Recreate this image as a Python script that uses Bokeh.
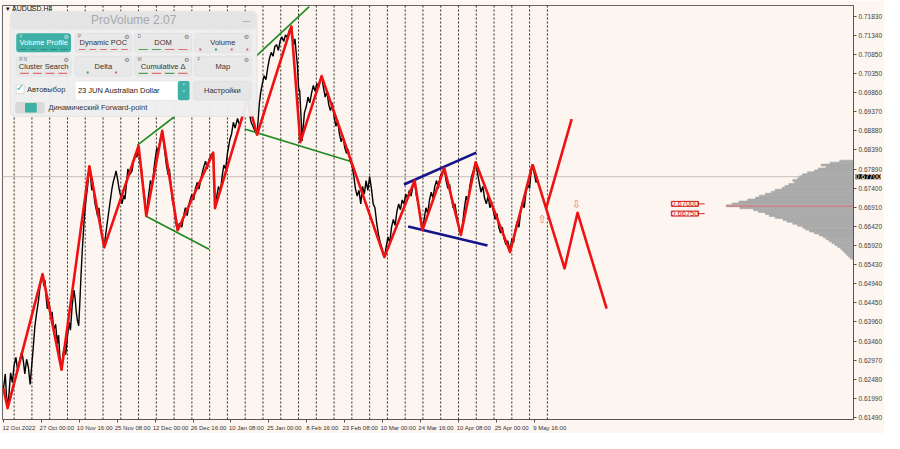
from bokeh.plotting import figure
from bokeh.models import Range1d, FixedTicker, PrintfTickFormatter, Label, BoxAnnotation
from bokeh.core.properties import value
from bokeh.embed import file_html
from bokeh.resources import INLINE

# ---------------- data ----------------
date_tick_bars = [0, 64, 128, 192, 256, 320, 384, 448, 512, 576, 640, 704, 768, 832, 896]
date_tick_labels = ["12 Oct 2022", "27 Oct 00:00", "10 Nov 16:00", "25 Nov 08:00", "12 Dec 00:00",
                    "26 Dec 16:00", "10 Jan 08:00", "25 Jan 00:00", "8 Feb 16:00", "23 Feb 08:00",
                    "10 Mar 00:00", "24 Mar 16:00", "10 Apr 08:00", "25 Apr 00:00", "9 May 16:00"]
price_ticks = [0.71830, 0.71340, 0.70850, 0.70350, 0.69860, 0.69370, 0.68880, 0.68390, 0.67890,
               0.67400, 0.66910, 0.66420, 0.65920, 0.65430, 0.64940, 0.64450, 0.63960, 0.63460,
               0.62970, 0.62480, 0.61990, 0.61490]
week_separator_bars = [18, 48, 78, 108, 138, 168, 198, 228, 258, 288, 318, 348, 378, 408, 438, 468,
                       498, 528, 558, 588, 618, 648, 678, 708, 738, 768, 798, 828, 858, 888, 918]

# H4 price path (bar index, price)
black_bar = [0, 3, 5, 7, 9, 12, 15, 18, 21, 24, 28, 31, 34, 36, 39, 42, 45, 48, 50, 53, 56, 59, 61, 63, 66,
             68, 70, 72, 74, 77, 80, 82, 85, 88, 91, 93, 95, 98,
             100, 102, 105, 108, 111, 113, 116, 119, 121, 123, 125, 127, 129, 131, 133, 136, 138, 140, 142, 145,
             147, 149, 151, 154, 156, 159, 161, 164, 166, 168, 170,
             172, 175, 177, 180, 183, 185, 188, 190, 193, 195, 198, 200, 203, 205, 208, 210, 213, 217, 220, 223, 225, 228,
             230, 233, 235, 238, 241,
             243, 246, 248, 251, 254, 256, 259, 261, 264, 268,
             270, 273, 275, 278, 280, 283, 285, 288, 291, 294,
             297, 301, 304, 307, 310, 314, 318, 321, 324, 327, 330, 334, 337, 341, 344, 347, 350, 354,
             356, 357,
             360, 363, 366, 369, 372, 375, 378, 382, 385, 388, 391, 395, 398, 402, 405, 408, 412,
             415, 418, 421, 424, 428,
             430, 432, 434, 437, 440, 443, 446, 449, 452, 455, 458, 461, 464, 467, 470, 473, 476, 479, 482, 486,
             488, 490, 492, 494, 496, 498, 500, 502, 504, 506, 508, 511, 514, 517, 520, 523, 526, 529, 532, 535, 537,
             540, 543, 546, 549, 552, 555, 558, 561, 564, 567, 570, 573, 576, 579, 582, 585, 588, 591, 594, 597,
             600, 603, 606, 609, 612, 615, 618, 621, 624, 627, 630, 633, 636, 639, 641, 643,
             646, 649, 652, 655, 658, 661, 664, 667, 670, 673, 676, 679, 682, 685, 688, 691, 694,
             697, 700, 703, 705, 707,
             710, 713, 716, 719, 722, 725, 728, 731, 734, 737, 740, 744,
             747, 750, 753, 756, 759, 762, 765, 768, 772,
             775, 778, 781, 784, 787, 790, 793, 797,
             800, 803, 806, 809, 812, 815, 818, 821, 824, 827, 830, 833, 836, 839, 842, 845, 848, 851, 855,
             858, 861, 864, 867, 870, 873, 876, 879, 882, 885, 888, 890, 893,
             895, 897, 899, 901]
black_price = [.6224, .6262, .6208, .6176, .6205, .6265, .6240, .6285, .6305, .6270, .6300, .6320, .6290, .6262, .6300, .6280, .6235, .6290, .6325, .6385, .6420, .6450, .6478, .6500, .6519,
               .6488, .6503, .6460, .6430, .6448, .6405, .6422, .6375, .6390, .6340, .6362, .6310, .6273,
               .6305, .6330, .6312, .6358, .6395, .6375, .6440, .6478, .6455, .6420, .6398, .6386, .6450, .6520, .6580, .6655, .6690, .6720, .6745, .6797,
               .6770, .6735, .6755, .6705, .6690, .6668, .6690, .6645, .6620, .6605, .6588,
               .6615, .6650, .6672, .6705, .6738, .6755, .6772, .6785, .6760, .6740, .6718, .6700, .6722, .6712, .6758, .6790, .6775, .6785, .6815, .6830, .6820, .6849,
               .6815, .6790, .6752, .6718, .6669,
               .6700, .6735, .6760, .6745, .6790, .6815, .6845, .6830, .6862, .6888,
               .6860, .6825, .6800, .6775, .6790, .6745, .6710, .6690, .6650, .6632,
               .6650, .6640, .6668, .6690, .6670, .6705, .6725, .6710, .6740, .6755, .6738, .6770, .6790, .6810, .6790, .6815, .6825, .6832,
               .6760, .6689,
               .6720, .6745, .6730, .6770, .6800, .6790, .6830, .6865, .6880, .6910, .6895, .6920, .6905, .6915, .6940, .6955, .6968,
               .6935, .6910, .6900, .6890, .6878,
               .6920, .6960, .6985, .7010, .7030, .7020, .7050, .7075, .7090, .7080, .7105, .7110, .7095, .7120, .7130, .7118, .7135, .7128, .7145, .7157,
               .7130, .7110, .7125, .7090, .7060, .7000, .6990, .6930, .6862, .6900, .6935, .6950, .6975, .6960, .6985, .7005, .6990, .7010, .7000, .7020, .7029,
               .7000, .6975, .6990, .6955, .6940, .6960, .6925, .6900, .6915, .6880, .6860, .6875, .6845, .6830, .6840, .6810, .6800, .6775, .6740, .6720,
               .6735, .6700, .6745, .6725, .6760, .6735, .6770, .6740, .6700, .6690, .6650, .6620, .6600, .6585, .6570, .6563,
               .6590, .6615, .6600, .6640, .6660, .6645, .6680, .6700, .6685, .6710, .6700, .6725, .6715, .6735, .6720, .6745, .6760,
               .6720, .6700, .6670, .6650, .6632,
               .6660, .6690, .6675, .6710, .6730, .6715, .6745, .6760, .6740, .6770, .6780, .6792,
               .6760, .6740, .6750, .6715, .6690, .6700, .6670, .6645, .6620,
               .6650, .6690, .6720, .6705, .6745, .6770, .6785, .6807,
               .6780, .6755, .6730, .6745, .6715, .6700, .6720, .6690, .6705, .6680, .6660, .6675, .6640, .6625, .6640, .6610, .6595, .6605, .6580,
               .6610, .6600, .6635, .6655, .6640, .6680, .6705, .6690, .6730, .6750, .6740, .6775, .6800,
               .6785, .6770, .6755, .6770]

# red zigzag
zz_bar = [0, 7, 66, 98, 145, 170, 228, 241, 268, 294, 354, 357, 412, 428, 486, 501, 537, 643, 694, 707, 744, 772, 797, 855, 893]
zz_price = [0.6224, 0.6174, 0.6519, 0.6273, 0.6797, 0.6588, 0.6849, 0.6669, 0.6888, 0.6632, 0.6832, 0.6689, 0.6970,
            0.6878, 0.7157, 0.6859, 0.7029, 0.6563, 0.6760, 0.6632, 0.6792, 0.6620, 0.6807, 0.6576, 0.6802]
# forecast paths
fc1_bar = [893, 947, 969, 1018]
fc1_price = [0.6802, 0.6534, 0.6677, 0.6430]
fc2_bar = [916, 959]
fc2_price = [0.6689, 0.6918]
arrow_up_bar = [909]
arrow_up_price = [0.6659]
arrow_dn_bar = [967]
arrow_dn_price = [0.6699]

# green channels
green_bars = [[226, 289], [240, 347], [426, 516], [407, 585]]
green_prices = [[0.6851, 0.6925], [0.6669, 0.6583], [0.7080, 0.7208], [0.6893, 0.6810]]
# navy triangle
navy_bars = [[676, 798], [683, 817]]
navy_prices = [[0.6750, 0.6832], [0.6642, 0.6593]]

# volume profile
profile_price = [0.6810, 0.6805, 0.6800, 0.6795, 0.6790, 0.6785, 0.6780, 0.6775, 0.6770, 0.6765, 0.6760,
                 0.6755, 0.6750, 0.6745, 0.6740, 0.6735, 0.6730, 0.6725, 0.6720, 0.6715, 0.6710, 0.6705,
                 0.6700, 0.6695, 0.6690, 0.6685, 0.6680, 0.6675, 0.6670, 0.6665, 0.6660, 0.6655, 0.6650,
                 0.6645, 0.6640, 0.6635, 0.6630, 0.6625, 0.6620, 0.6615, 0.6610, 0.6605, 0.6600, 0.6595,
                 0.6590, 0.6585, 0.6580, 0.6575, 0.6570, 0.6565, 0.6560]
profile_vol = [14, 24, 33, 28, 36, 40, 47, 52, 55, 57, 62, 60, 66, 70, 73, 80, 84, 90, 96, 100, 108, 117,
               124, 130, 116, 102, 97, 90, 86, 80, 72, 68, 62, 57, 52, 49, 45, 40, 35, 31, 28, 25, 22, 19,
               16, 13, 11, 9, 7, 5, 3]
poc_price = 0.66944
level_prices = [0.67000, 0.66750]
level_texts = ["0.67000", "0.66750"]
current_price = 0.67700

# ---------------- layout / style ----------------
BG = "#fdf5ef"
X0, X1 = -1.65, 1434.7
Y0, Y1 = 0.61448, 0.72108
PX = 1.653          # bars per reference pixel (profile width scale)
RED = "#f01212"
TEAL = "#3fb0a5"
FONT = "Liberation Sans"


def rx(px):
    return X0 + (px - 2) / 869.0 * (X1 - X0)


def ry(py):
    return Y1 - (py - 2) / 433.0 * (Y1 - Y0)


p = figure(width=884, height=433, x_range=Range1d(X0, X1), y_range=Range1d(Y0, Y1),
           output_backend="svg", toolbar_location=None, y_axis_location="right",
           background_fill_color=BG, border_fill_color=BG,
           min_border_left=2, min_border_top=0, min_border_right=2, min_border_bottom=0)
p.xgrid.visible = False
p.ygrid.visible = False
p.outline_line_color = "#666666"

# x axis: labels start at tick like MT4
shift = 26
xa = p.xaxis[0]
xa.ticker = FixedTicker(ticks=[b + shift for b in date_tick_bars], minor_ticks=date_tick_bars)
xa.major_label_overrides = {b + shift: t for b, t in zip(date_tick_bars, date_tick_labels)}
xa.major_tick_out = 0
xa.major_tick_in = 0
xa.minor_tick_out = 3
xa.minor_tick_in = 0
xa.axis_line_color = "#555555"
xa.minor_tick_line_color = "#555555"
xa.major_label_text_font_size = "6px"
xa.major_label_text_font = FONT
xa.major_label_text_color = "#333333"
xa.major_label_standoff = 2

ya = p.yaxis[0]
ya.ticker = FixedTicker(ticks=price_ticks)
ya.formatter = PrintfTickFormatter(format="%.5f")
ya.major_tick_out = 3
ya.major_tick_in = 0
ya.minor_tick_out = 0
ya.minor_tick_in = 0
ya.axis_line_color = "#555555"
ya.major_tick_line_color = "#555555"
ya.major_label_text_font_size = "6.5px"
ya.major_label_text_font = FONT
ya.major_label_text_color = "#444444"
ya.major_label_standoff = 2

# weekly separators
n = len(week_separator_bars)
p.segment(x0=week_separator_bars, y0=[Y0] * n, x1=week_separator_bars, y1=[Y1] * n,
          line_color="#2a2a2a", line_dash="2 2", line_width=1)
# current price line
p.segment(x0=[X0], y0=[current_price], x1=[X1], y1=[current_price], line_color="#c8bebe", line_width=1)

# volume profile
p.hbar(y=profile_price, left=[X1 - v * PX for v in profile_vol], right=X1, height=0.0005,
       fill_color="#aaaaaa", line_color="#aaaaaa", line_width=0.6)
p.segment(x0=[X1 - max(profile_vol) * PX], y0=[poc_price], x1=[X1], y1=[poc_price],
          line_color="#e06a6a", line_width=1)

# price
p.line(black_bar, black_price, line_color="black", line_width=1.4)

for bx, by in zip(green_bars, green_prices):
    p.line(bx, by, line_color="#1f8a1f", line_width=1.6)
for bx, by in zip(navy_bars, navy_prices):
    p.line(bx, by, line_color="#15158a", line_width=2.6)

p.line(zz_bar, zz_price, line_color=RED, line_width=2.6, line_join="round")
p.line(fc1_bar, fc1_price, line_color=RED, line_width=2.6, line_join="round")
p.line(fc2_bar, fc2_price, line_color=RED, line_width=2.6)

p.text(x=arrow_up_bar, y=arrow_up_price, text=["\u21e7"], text_color="#f07a7a",
       text_font=value("DejaVu Sans"), text_font_size="11px", text_align="center", text_baseline="middle")
p.text(x=arrow_dn_bar, y=arrow_dn_price, text=["\u21e9"], text_color="#f07a7a",
       text_font=value("DejaVu Sans"), text_font_size="11px", text_align="center", text_baseline="middle")

# level labels
for lp, lt in zip(level_prices, level_texts):
    p.segment(x0=[rx(712)], y0=[lp], x1=[rx(719)], y1=[lp], line_color="#d83030", line_width=1)
    p.add_layout(Label(x=rx(685), y=lp, text=lt, text_font_size="7.5px", text_font=FONT,
                       text_color="#d02020", text_align="left", text_baseline="middle",
                       border_line_color="#d02020", background_fill_color=BG))

# current price tag on the axis (side-panel annotation, so it is not clipped to the frame)
p.add_layout(Label(x=X1, y=current_price, x_offset=2, text="0.67700", text_font_size="7px", text_font=FONT,
                   text_color="white", text_align="left", text_baseline="middle",
                   background_fill_color="black"), "above")

# symbol caption
p.add_layout(Label(x=rx(6), y=ry(5), text="\u25be AUDUSD,H4", text_font_size="7px", text_font=FONT,
                   text_color="#111111", text_align="left", text_baseline="middle"))


# ---------------- ProVolume panel ----------------
def box(x0, y0, x1, y1, fill, line=None, radius=0, alpha=1.0):
    p.add_layout(BoxAnnotation(left=rx(x0), right=rx(x1), top=ry(y0), bottom=ry(y1),
                               fill_color=fill, fill_alpha=alpha,
                               line_color=line if line else None, line_width=1,
                               border_radius=radius))


def txt(x, y, s, size, color, align="left", font=FONT):
    p.add_layout(Label(x=rx(x), y=ry(y), text=s, text_font_size=f"{size}px", text_font=font,
                       text_color=color, text_align=align, text_baseline="middle"))


def dashes(x0, x1, y, colors):
    k = len(colors)
    w = (x1 - x0) / k
    for i, c in enumerate(colors):
        if c:
            box(x0 + i * w + 2, y - 0.6, x0 + (i + 1) * w - 2, y + 0.6, c)


box(10, 8, 262, 118, "#eeeeee", "#c2c2c2", 5, 0.96)
box(11, 9, 261, 27, "#e4e4e4", None, 4, 1.0)
txt(136, 17.5, "ProVolume 2.07", 12, "#a8a8a8", "center")
txt(251, 19, "\u2014", 8, "#9a9a9a", "center", "DejaVu Sans")

cols = [(16, 72), (76, 134), (137, 195), (198, 256)]
row1 = ["Volume Profile", "Dynamic POC", "DOM", "Volume"]
row2 = ["Cluster Search", "Delta", "Cumulative \u0394", "Map"]
tags1 = ["V", "P", "D", ""]
tags2 = ["R  N", "", "M", "F"]
dash1 = [["#2f8a82"] * 5, ["#e07070"] * 5, ["#55a055", "#55a055", "#e07070", "#e07070"], None]
dash2 = [["#e07070"] * 4, None, ["#55a055", "#e07070", "#55a055", "#e07070"], None]

for (xa0, xa1), t, tg, dc in zip(cols, row1, tags1, dash1):
    teal = t == "Volume Profile"
    box(xa0, 31, xa1, 51, TEAL if teal else "#e8e8e8", None if teal else "#d0d0d0", 3)
    txt((xa0 + xa1) / 2, 41, t, 7.5, "white" if teal else "#333333", "center")
    if tg:
        txt(xa0 + 3, 34, tg, 4.5, "#dddddd" if teal else "#777777")
    txt(xa1 - 5, 34, "\u2699", 6, "#dddddd" if teal else "#777777", "center", "DejaVu Sans")
    if dc:
        dashes(xa0 + 2, xa1 - 2, 48, dc)
# Volume dots
for i, c in enumerate(["#d06060", "#4a9a4a", "#d06060", "#d06060"]):
    cx = 204 + i * 16
    box(cx - 1, 47, cx + 1, 49, c)

for (xa0, xa1), t, tg, dc in zip(cols, row2, tags2, dash2):
    box(xa0, 55, xa1, 76, "#e8e8e8", "#d0d0d0", 3)
    txt((xa0 + xa1) / 2, 66, t, 7.5, "#333333", "center")
    if tg:
        txt(xa0 + 3, 58, tg, 4.5, "#777777")
    txt(xa1 - 5, 58, "\u2699", 6, "#777777", "center", "DejaVu Sans")
    if dc:
        dashes(xa0 + 2, xa1 - 2, 73, dc)
# Delta dots
box(88, 71, 90, 73, "#4a9a4a")
box(117, 71, 119, 73, "#d06060")

# checkbox row
box(16, 85, 24, 94, "white", "#999999", 1)
txt(20, 88, "\u2713", 10, TEAL, "center", "DejaVu Sans")
txt(27, 90, "\u0410\u0432\u0442\u043e\u0432\u044b\u0431\u043e\u0440", 7.5, "#333333")
box(76, 81, 193, 101, "white", "#cfcfcf", 2)
box(181, 81, 193, 101, TEAL, None, 2)
txt(79, 91, "23 JUN Australian Dollar", 7.5, "#222222")
txt(187, 87, "\u02c4", 7, "white", "center", "DejaVu Sans")
txt(187, 95, "\u02c5", 7, "white", "center", "DejaVu Sans")
box(197, 81, 256, 101, "#e6e6e6", "#d0d0d0", 3)
txt(226.5, 91, "\u041d\u0430\u0441\u0442\u0440\u043e\u0439\u043a\u0438", 7.5, "#333333", "center")

# toggle row
box(15, 103, 45, 115, "#d9d9d9", None, 2)
box(25, 104, 37, 114, TEAL, None, 1)
txt(49, 109, "\u0414\u0438\u043d\u0430\u043c\u0438\u0447\u0435\u0441\u043a\u0438\u0439 Forward-point", 7.5, "#333333")

open("out.html", "w").write(file_html(p, INLINE))
